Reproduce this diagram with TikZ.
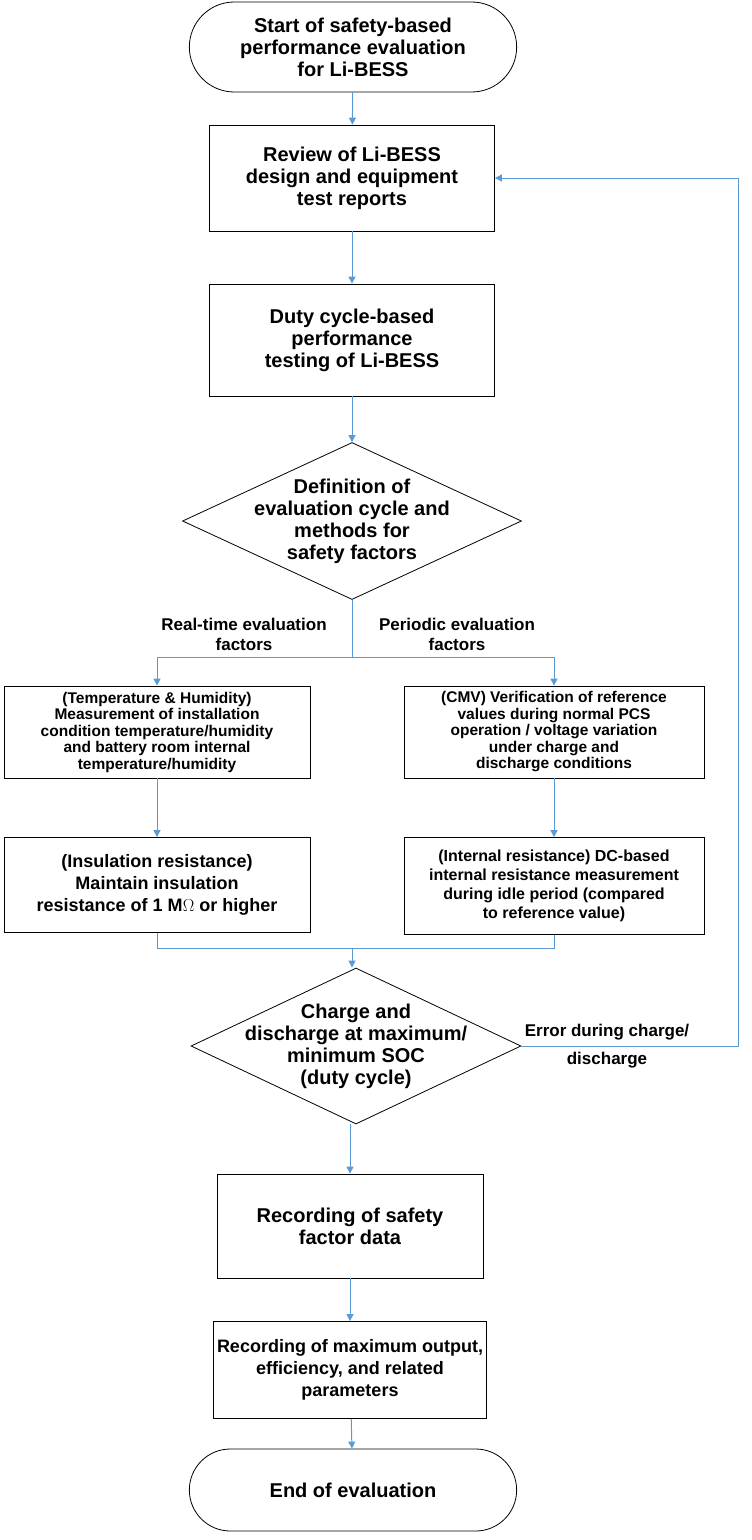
\documentclass[tikz,border=0pt]{standalone}
\usepackage{fontspec}
\setmainfont{Liberation Sans}
\usetikzlibrary{shapes.geometric, shapes.misc, arrows.meta, positioning, calc}
\definecolor{linkblue}{RGB}{91,155,213}
\tikzstyle{arrow} = [-{Triangle[length=7pt,width=7pt]},draw=linkblue,line width=1pt]
\tikzstyle{line} = [draw=linkblue,line width=1pt]
\tikzstyle{box} = [draw, rectangle, line width=0.8pt, align=center, font=\bfseries\fontsize{20}{22}\selectfont]
\tikzstyle{smallbox} = [box, font=\bfseries\fontsize{15.5}{16.5}\selectfont]
\tikzstyle{term} = [draw, rounded rectangle, line width=0.8pt, align=center, font=\bfseries\fontsize{20}{22}\selectfont]
\tikzstyle{decision} = [draw, diamond, aspect=2.15, inner sep=-14pt, line width=0.8pt, align=center, font=\bfseries\fontsize{20}{22}\selectfont]
\tikzstyle{lbl} = [align=center, font=\bfseries\fontsize{17}{20}\selectfont]

\begin{document}
\begin{tikzpicture}[x=1pt,y=-1pt]
    \useasboundingbox (0,0) rectangle (752,1540);

    % --- start
    \node[term, minimum width=334pt, minimum height=90pt] (start) at (353,47) {Start of safety-based\\performance evaluation\\for Li-BESS};
    \node[box, minimum width=285pt, minimum height=106pt] (review) at (352,178) {Review of Li-BESS\\design and equipment\\test reports};
    \node[box, minimum width=285pt, minimum height=112pt] (duty) at (352,340) {Duty cycle-based\\performance\\testing of Li-BESS};
    \node[decision, minimum width=339pt, minimum height=157pt] (def) at (352,521) {Definition of\\evaluation cycle and\\methods for\\safety factors};

    % --- branches
    \node[lbl] (realtime) at (244,634) {Real-time evaluation\\factors};
    \node[lbl] (periodic) at (457,634) {Periodic evaluation\\factors};
    \node[smallbox, minimum width=306pt, minimum height=92pt] (temp) at (157,732) {(Temperature \& Humidity)\\Measurement of installation\\condition temperature/humidity\\and battery room internal\\temperature/humidity};
    \node[smallbox, minimum width=300pt, minimum height=92pt] (cmv) at (554,732) {(CMV) Verification of reference\\values during normal PCS\\operation / voltage variation\\under charge and\\discharge conditions};
    \node[box, font=\bfseries\fontsize{18}{22}\selectfont, minimum width=306pt, minimum height=95pt] (insul) at (157,885) {(Insulation resistance)\\Maintain insulation\\resistance of 1 M$\Omega$ or higher};
    \node[smallbox, font=\bfseries\fontsize{16}{19}\selectfont, minimum width=300pt, minimum height=97pt] (intres) at (554,886) {(Internal resistance) DC-based\\internal resistance measurement\\during idle period (compared\\to reference value)};

    % --- charge check
    \node[decision, minimum width=330pt, minimum height=156pt] (soc) at (356,1046) {Charge and\\discharge at maximum/\\minimum SOC\\(duty cycle)};
    \node[lbl, anchor=south, font=\bfseries\fontsize{17}{28}\selectfont] (err) at (607,1072) {Error during charge/\\discharge};
    \node[box, minimum width=266pt, minimum height=104pt] (record) at (350,1226) {Recording of safety\\factor data};
    \node[box, font=\bfseries\fontsize{18}{22}\selectfont, minimum width=266pt, minimum height=97pt] (recmax) at (350,1370) {Recording of maximum output,\\efficiency, and related\\parameters};
    \node[term, minimum width=334pt, minimum height=82pt] (end) at (353,1490) {End of evaluation};

    % --- connectors
    \draw[arrow] (start) -- (review);
    \draw[arrow] (review) -- (duty);
    \draw[arrow] (duty) -- (def);
    \coordinate (split) at (def.south |- 0,657);
    \draw[line] (def.south) -- (split);
    \draw[arrow] (split) -| (temp.north);
    \draw[arrow] (split) -| (cmv.north);
    \draw[arrow] (temp) -- (insul);
    \draw[arrow] (cmv) -- (intres);
    \coordinate (merge) at (def.south |- 0,948);
    \draw[line] (insul.south) |- (merge) -| (intres.south);
    \draw[arrow] (merge) -- (soc.north -| merge);
    \coordinate (back) at (738,0);
    \draw[arrow] (soc.east) -| (back |- review.east) -- (review.east);
    \draw[arrow] (soc.south -| record.north) -- (record);
    \draw[arrow] (record) -- (recmax);
    \draw[arrow] (recmax) -- (end);
\end{tikzpicture}
\end{document}
